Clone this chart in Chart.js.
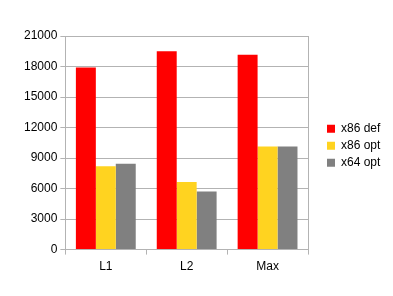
<!DOCTYPE html>
<html>
<head>
<meta charset="utf-8">
<script src="https://cdn.jsdelivr.net/npm/chart.js@4/dist/chart.umd.min.js"></script>
<style>
  html, body { margin: 0; padding: 0; background: #fff; }
  #wrap { width: 393px; height: 296px; position: relative; }
</style>
</head>
<body>
<div id="wrap"><canvas id="chart"></canvas></div>
<script>
// categories and series
const categories = ['L1', 'L2', 'Max'];
const x86def = [17900, 19500, 19150];
const x86opt = [8200, 6650, 10130];
const x64opt = [8450, 5700, 10130];
const yMax = 21000;
const yStep = 3000;

const gridGray = '#b3b3b3';
const legendWidth = 85;   // room kept for the legend on the right
const legendShift = { x: 14, y: 3 };

Chart.defaults.font.family = '"Liberation Sans", Arial, sans-serif';
Chart.defaults.font.size = 12;
Chart.defaults.color = '#000';

// fixed-width legend, items nudged to where the original draws them
const legendPlacement = {
    id: 'legendPlacement',
    beforeInit(chart) {
        const fit = chart.legend.fit;
        chart.legend.fit = function () {
            fit.call(this);
            this.width = legendWidth;
        };
    },
    afterLayout(chart) {
        const lg = chart.legend;
        lg.left += legendShift.x;
        lg.right += legendShift.x;
        lg.top += legendShift.y;
        lg.bottom += legendShift.y;
    }
};

new Chart(document.getElementById('chart'), {
    type: 'bar',
    data: {
        labels: categories,
        datasets: [
            { label: 'x86 def', data: x86def, backgroundColor: '#ff0000' },
            { label: 'x86 opt', data: x86opt, backgroundColor: '#ffd320' },
            { label: 'x64 opt', data: x64opt, backgroundColor: '#808080' }
        ]
    },
    options: {
        responsive: true,
        maintainAspectRatio: false,
        animation: false,
        layout: { padding: { left: 21, top: 36, bottom: 17, right: 0 } },
        datasets: {
            bar: { categoryPercentage: 0.74, barPercentage: 1 }
        },
        plugins: {
            legend: {
                position: 'right',
                fullSize: false,
                labels: {
                    boxWidth: 8,
                    boxHeight: 8,
                    padding: 5,
                    color: '#000'
                }
            },
            tooltip: { enabled: false }
        },
        scales: {
            x: {
                grid: {
                    offset: true,
                    color: ctx => ctx.type === 'scale' ? gridGray : 'transparent',
                    tickColor: gridGray,
                    tickLength: 5
                },
                border: { color: gridGray },
                ticks: { padding: 5, color: '#000' }
            },
            y: {
                min: 0,
                max: yMax,
                ticks: { stepSize: yStep, padding: 3, color: '#000', callback: v => String(v) },
                grid: { color: gridGray, tickColor: gridGray, tickLength: 5 },
                border: { color: gridGray }
            }
        }
    },
    plugins: [legendPlacement]
});
</script>
</body>
</html>
